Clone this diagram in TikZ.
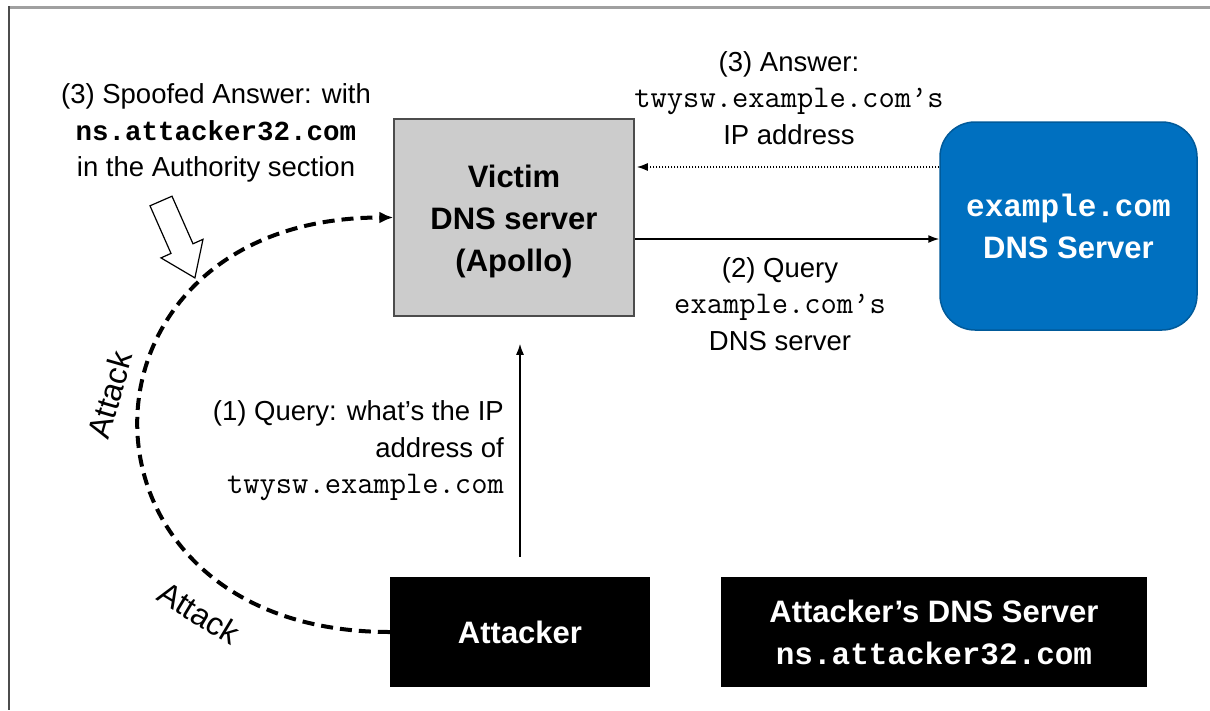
\documentclass[tikz,border=0pt]{standalone}
\usepackage{fontspec}
\setmainfont{Liberation Sans}
\newfontfamily\bmono{Liberation Mono}
\usetikzlibrary{arrows.meta,calc}
\definecolor{boxgray}{RGB}{204,204,204}
\definecolor{boxblue}{RGB}{0,112,192}
\definecolor{frameg}{RGB}{160,160,160}
\newcommand{\cmono}[1]{{\fontsize{31.6}{36.5}\selectfont\ttfamily #1}}
\begin{document}
\begin{tikzpicture}[x=1pt,y=-1pt,
  lbl/.style={font=\fontsize{27.5}{36.5}\selectfont, inner sep=0pt, align=center},
  atklbl/.style={font=\fontsize{32}{36}\selectfont, inner sep=0pt},
  boxtxt/.style={font=\fontsize{31}{42}\selectfont\bfseries, align=center, inner sep=0pt},
  arr/.style={line width=1.5pt, -{Latex[length=11pt,width=8pt]}},
  attackarr/.style={line width=4pt, dash pattern=on 12pt off 7pt, -{Latex[length=14pt,width=12pt]}}
]
\useasboundingbox (0,0) rectangle (1210,710);
\fill[white] (0,0) rectangle (1210,710);
% frame
\draw[frameg, line width=3pt] (9,7) -- (1210,7);
\draw[black!70, line width=2pt] (9,6) -- (9,710);

% boxes
\node[draw=black!70, line width=1.5pt, fill=boxgray, minimum width=240pt, minimum height=197pt] (vic) at (514,217.5) {};
\node[boxtxt] (victxt) at ($(vic.center)+(0,4)$) {Victim\\DNS server\\(Apollo)};
\node[boxtxt, draw=boxblue!80!black, line width=1.5pt, fill=boxblue, text=white, rounded corners=35pt, minimum width=257pt, minimum height=208pt] (ex) at (1068.5,226) {{\bmono example.com}\\DNS Server};
\node[boxtxt, fill=black, text=white, minimum width=260pt, minimum height=110pt] (att) at (520,632) {Attacker};
\node[boxtxt, fill=black, text=white, minimum width=426pt, minimum height=110pt] (adns) at (934,632) {Attacker’s DNS Server\\{\bmono ns.attacker32.com}};

% labels
\node[lbl] (spoof) at (216,133) {(3) Spoofed Answer: with\\{\bmono\bfseries ns.attacker32.com}\\in the Authority section};
\node[lbl] (ans) at (789,98) {(3) Answer:\\\cmono{twysw.example.com’s}\\IP address};
\node[lbl] (q2) at (780,304) {(2) Query\\\cmono{example.com’s}\\DNS server};
\node[lbl, align=right, anchor=east] (q1) at (504,451) {(1) Query: what’s the IP\\address of\\\cmono{twysw.example.com}};
\node[atklbl, rotate=74] (atk1) at (110,395) {Attack};
\node[atklbl, rotate=-31] (atk2) at (199,613) {Attack};

% arrows
\draw[arr] ($(att.north)+(0,-20)$) -- ($(att.north |- vic.south)+(0,27)$);
\draw[arr] ($(vic.east)+(0,21.5)$) -- ($(ex.west)+(0,13)$);
\draw[line width=1.5pt, dash pattern=on 1.2pt off 1.8pt, -{Latex[length=11pt,width=8pt]}] ($(ex.west)+(0,-59)$) -- ($(vic.east)+(2,-50.5)$);
\draw[attackarr] (att.west) .. controls +(-337,0) and +(-337,0) .. (vic.west);

% hollow block arrow
\draw[line width=1.2pt, fill=white] (172,196.2) -- (193,243.8) -- (203,239.3) -- (194.9,277.9) -- (161,257.9) -- (171,253.4) -- (150,205.8) -- cycle;
\end{tikzpicture}
\end{document}
